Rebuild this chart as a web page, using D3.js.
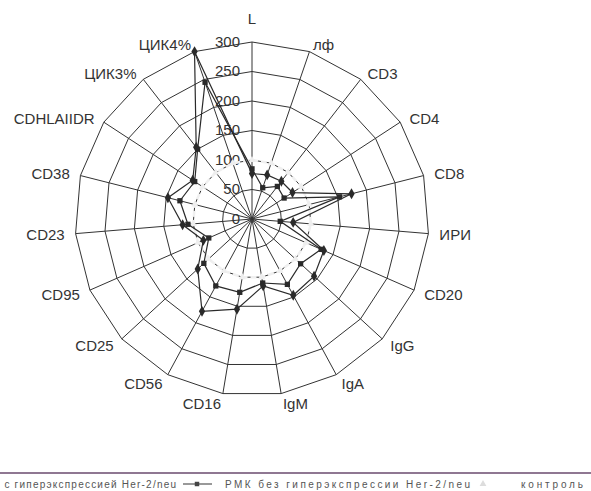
<!DOCTYPE html>
<html>
<head>
<meta charset="utf-8">
<script src="https://cdn.jsdelivr.net/npm/d3@7"></script>
<style>
  body { margin: 0; background: #fff; }
  svg { display: block; font-family: "Liberation Sans", Arial, sans-serif; }
</style>
</head>
<body>
<svg id="chart" width="591" height="491"></svg>
<script>
// axes go clockwise from the top
const axes = ["L", "лф", "CD3", "CD4", "CD8", "ИРИ", "CD20", "IgG", "IgA", "IgM",
  "CD16", "CD56", "CD25", "CD95", "CD23", "CD38", "CDHLAIIDR", "ЦИК3%", "ЦИК4%"];
const withHer2 = [77, 79, 81, 82, 174, 70, 133, 143, 147, 115, 155, 178, 125, 90, 118, 147, 120, 154, 300];
const withoutHer2 = [85, 56, 70, 65, 153, 48, 128, 112, 126, 110, 126, 129, 111, 80, 109, 126, 116, 150, 245];
const control = [100, 100, 100, 100, 100, 100, 100, 100, 100, 100, 100, 100, 100, 100, 100, 100, 100, 100, 100];
const ticks = [0, 50, 100, 150, 200, 250, 300];
const legendNames = ["РМК с гиперэкспрессией Her-2/neu", "РМК без гиперэкспрессии Her-2/neu", "контроль"];

const svg = d3.select("#chart");
const cx = 252, cy = 219;
const r = d3.scaleLinear([0, 300], [0, 177]);
const angle = i => i * 2 * Math.PI / axes.length;
const ink = "#333";

const g = svg.append("g").attr("transform", `translate(${cx},${cy})`);

const radial = d3.lineRadial()
  .angle((d, i) => angle(i))
  .radius(d => r(d))
  .curve(d3.curveLinearClosed);

// polygon rings
g.append("g")
  .selectAll("path")
  .data(ticks.slice(1))
  .join("path")
    .attr("d", t => radial(axes.map(() => t)))
    .attr("fill", "none")
    .attr("stroke", ink)
    .attr("stroke-width", 1);

// spokes
g.append("g")
  .selectAll("line")
  .data(axes)
  .join("line")
    .attr("x1", 0).attr("y1", 0)
    .attr("x2", (d, i) => Math.sin(angle(i)) * r(300))
    .attr("y2", (d, i) => -Math.cos(angle(i)) * r(300))
    .attr("stroke", ink)
    .attr("stroke-width", 1);

// tick labels along the L axis
g.append("g")
  .selectAll("text")
  .data(ticks)
  .join("text")
    .attr("x", -12)
    .attr("y", t => -r(t) - 1)
    .attr("text-anchor", "end")
    .attr("dominant-baseline", "central")
    .attr("font-size", 15)
    .attr("fill", ink)
    .text(t => t);

// axis labels
g.append("g")
  .selectAll("text")
  .data(axes)
  .join("text")
    .attr("x", (d, i) => {
      const s = Math.sin(angle(i));
      return s * r(300) + s * 11;
    })
    .attr("y", (d, i) => {
      const c = Math.cos(angle(i));
      const y = -c * r(300);
      if (i === 0) return y - 24;
      return y + (c > 0 ? -c * 7 : -c * 10);
    })
    .attr("text-anchor", (d, i) => {
      const s = Math.sin(angle(i));
      return s > 0.05 ? "start" : s < -0.05 ? "end" : "middle";
    })
    .attr("dominant-baseline", "central")
    .attr("font-size", 15)
    .attr("fill", ink)
    .text(d => d);

const pt = (v, i) => [Math.sin(angle(i)) * r(v), -Math.cos(angle(i)) * r(v)];

// control series: very light dashed line over the grid
g.append("path")
  .attr("d", radial(control))
  .attr("fill", "none")
  .attr("stroke", "#f0f0f0")
  .attr("stroke-width", 2.5)
  .attr("stroke-dasharray", "6,3");
g.append("g")
  .selectAll("path")
  .data(control)
  .join("path")
    .attr("transform", (d, i) => `translate(${pt(d, i)})`)
    .attr("d", d3.symbol(d3.symbolTriangle, 22))
    .attr("fill", "#eeeeee");

function drawSeries(values, symbolType, size) {
  g.append("path")
    .attr("d", radial(values))
    .attr("fill", "none")
    .attr("stroke", "#2a2a2a")
    .attr("stroke-width", 1.2);
  g.append("g")
    .selectAll("path")
    .data(values)
    .join("path")
      .attr("transform", (d, i) => `translate(${pt(d, i)})`)
      .attr("d", d3.symbol(symbolType, size))
      .attr("fill", "#2a2a2a");
}
drawSeries(withoutHer2, d3.symbolSquare, 28);
drawSeries(withHer2, d3.symbolDiamond, 34);

// legend
svg.append("line")
  .attr("x1", 0).attr("x2", 591)
  .attr("y1", 473).attr("y2", 473)
  .attr("stroke", "#6a4a6e")
  .attr("stroke-width", 1.5);

const leg = svg.append("g")
  .attr("font-size", 10)
  .attr("fill", "#555");

// first entry is cut by the left edge, as in the scan
leg.append("text")
  .attr("x", -24).attr("y", 484)
  .attr("dominant-baseline", "central")
  .attr("textLength", 200)
  .attr("lengthAdjust", "spacing")
  .text(legendNames[0]);

leg.append("line")
  .attr("x1", 183).attr("x2", 212)
  .attr("y1", 484).attr("y2", 484)
  .attr("stroke", "#555").attr("stroke-width", 1.2);
leg.append("path")
  .attr("transform", "translate(197,484)")
  .attr("d", d3.symbol(d3.symbolSquare, 20))
  .attr("fill", "#444");
leg.append("text")
  .attr("x", 225).attr("y", 484)
  .attr("dominant-baseline", "central")
  .attr("textLength", 245)
  .attr("lengthAdjust", "spacing")
  .text(legendNames[1]);

leg.append("path")
  .attr("transform", "translate(483,484)")
  .attr("d", d3.symbol(d3.symbolTriangle, 20))
  .attr("fill", "#dddddd");
leg.append("text")
  .attr("x", 521).attr("y", 484)
  .attr("dominant-baseline", "central")
  .attr("textLength", 62)
  .attr("lengthAdjust", "spacing")
  .text(legendNames[2]);
</script>
</body>
</html>
